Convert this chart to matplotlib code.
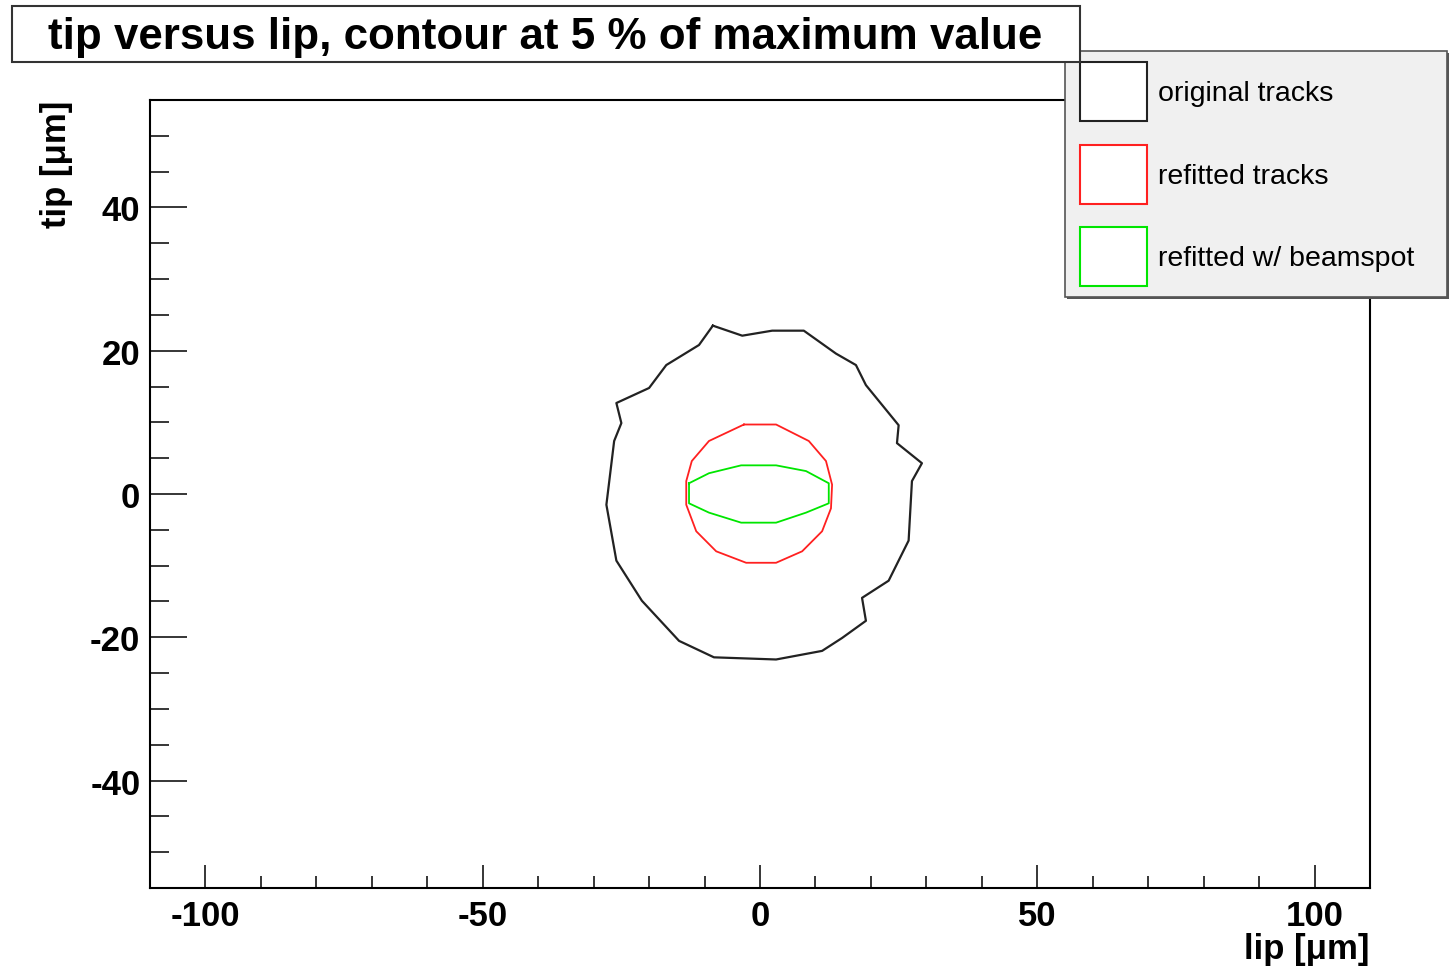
import numpy as np
import matplotlib.pyplot as plt
from matplotlib.patches import Rectangle, Patch
from matplotlib.ticker import MultipleLocator

plt.rcParams['font.family'] = ['Liberation Sans', 'DejaVu Sans']
plt.rcParams['axes.unicode_minus'] = False

# contour polygons (lip, tip) in micrometres
orig_lip = [-8.5, -3.2, 2.2, 7.9, 13.7, 17.3, 19.1, 25.0, 24.7, 29.2, 27.4, 26.8,
            23.2, 18.4, 19.1, 14.8, 11.2, 2.9, -8.3, -14.6, -21.3, -25.9, -27.7,
            -26.3, -25.0, -25.9, -20.0, -16.9, -11.0]
orig_tip = [23.5, 22.1, 22.8, 22.8, 19.6, 18.0, 15.2, 9.6, 7.1, 4.3, 1.8, -6.5,
            -12.1, -14.5, -17.7, -20.1, -21.9, -23.1, -22.8, -20.5, -14.9, -9.3, -1.5,
            7.4, 9.9, 12.7, 14.8, 18.0, 20.8]

refit_lip = [-2.9, 2.9, 8.8, 11.9, 13.0, 12.8, 11.2, 7.6, 2.9, -2.5, -7.9, -11.5,
             -13.3, -13.3, -12.3, -9.2]
refit_tip = [9.7, 9.7, 7.4, 4.6, 1.3, -2.0, -5.2, -8.0, -9.6, -9.6, -8.0, -5.2,
             -1.5, 1.8, 4.6, 7.4]

beam_lip = [-12.8, -9.2, -3.4, 2.9, 8.3, 12.4, 12.4, 8.3, 2.9, -3.4, -9.2, -12.8]
beam_tip = [1.5, 2.9, 4.0, 4.0, 3.2, 1.5, -1.3, -2.6, -4.0, -4.0, -2.6, -1.3]

labels = ['original tracks', 'refitted tracks', 'refitted w/ beamspot']
colors = ['#222222', '#ff2020', '#00e600']


def closed(a):
    return list(a) + [a[0]]


fig = plt.figure(figsize=(14.52, 9.70), dpi=100)
ax = fig.add_axes([150 / 1452, 1 - 889 / 970, 1220 / 1452, 788 / 970])

ax.plot(closed(orig_lip), closed(orig_tip), color=colors[0], lw=1.6)
ax.plot(closed(refit_lip), closed(refit_tip), color=colors[1], lw=1.3)
ax.plot(closed(beam_lip), closed(beam_tip), color=colors[2], lw=1.3)

ax.set_xlim(-110, 110)
ax.set_ylim(-55, 55)
ax.xaxis.set_major_locator(MultipleLocator(50))
ax.xaxis.set_minor_locator(MultipleLocator(10))
ax.yaxis.set_major_locator(MultipleLocator(20))
ax.yaxis.set_minor_locator(MultipleLocator(5))
ax.tick_params(axis='x', which='major', direction='in', length=16.5, width=1.1,
               labelsize=25, pad=8)
ax.tick_params(axis='x', which='minor', direction='in', length=8.5, width=1.1)
ax.tick_params(axis='y', which='major', direction='in', length=26.5, width=1.1,
               labelsize=25, pad=7)
ax.tick_params(axis='y', which='minor', direction='in', length=13.7, width=1.1)
for lab in ax.get_xticklabels() + ax.get_yticklabels():
    lab.set_fontweight('bold')
for sp in ax.spines.values():
    sp.set_linewidth(1.5)

ax.set_xlabel('lip [μm]', loc='right', fontsize=25, fontweight='bold', labelpad=0)
ax.set_ylabel('tip [μm]', loc='top', fontsize=25, fontweight='bold', labelpad=12)

# title box
fig.add_artist(Rectangle((12 / 1452, 1 - 63 / 970), 1068 / 1452, 56 / 970,
                         transform=fig.transFigure, facecolor='white',
                         edgecolor='#333333', lw=1.5, zorder=10))
fig.text(545 / 1452, 1 - 37 / 970, 'tip versus lip, contour at 5 % of maximum value',
         ha='center', va='center', fontsize=31.6, fontweight='bold', zorder=11)

# legend box with shadow
fig.add_artist(Rectangle((1067 / 1452, 1 - 300 / 970), 382 / 1452, 246 / 970,
                         transform=fig.transFigure, facecolor='#555555',
                         edgecolor='none', zorder=4))
fig.add_artist(Rectangle((1065 / 1452, 1 - 298 / 970), 382 / 1452, 246 / 970,
                         transform=fig.transFigure, facecolor='#f0f0f0',
                         edgecolor='#555555', lw=1.2, zorder=5))
handles = [Patch(facecolor='white', edgecolor=c, lw=1.5) for c in colors]
fig.legend(handles, labels, loc='upper left',
           bbox_to_anchor=(1080 / 1452, 1 - 63 / 970), frameon=False,
           borderpad=0, borderaxespad=0, fontsize=20.5, handlelength=2.35,
           handleheight=2.8, labelspacing=0.84, handletextpad=0.4).set_zorder(6)

fig.savefig('out.png', dpi=100)
